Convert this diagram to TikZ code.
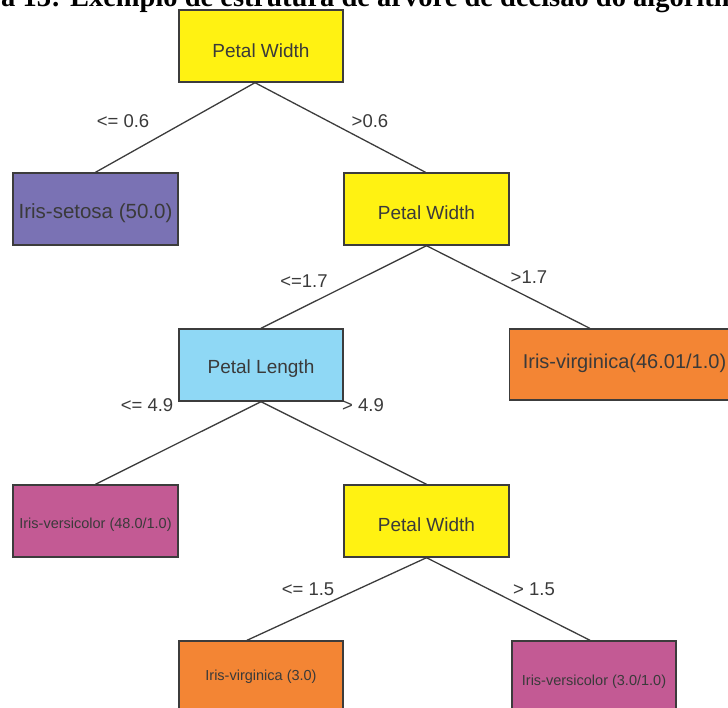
\documentclass[tikz,border=0pt]{standalone}
\usepackage{fontspec}
\setmainfont{Liberation Sans}
\newfontfamily\captionserif{Liberation Serif}
\usetikzlibrary{calc}
\definecolor{ink}{HTML}{3A3A3A}
\definecolor{edgeline}{HTML}{3C3C3C}
\definecolor{boxyellow}{RGB}{255,242,18}
\definecolor{boxpurple}{RGB}{122,114,180}
\definecolor{boxorange}{RGB}{243,133,52}
\definecolor{boxblue}{RGB}{143,216,245}
\definecolor{boxmagenta}{RGB}{195,90,148}
\tikzset{
  treebox/.style={draw=edgeline, line width=1.4pt, rectangle, inner sep=0pt,
    minimum width=164pt, minimum height=72pt},
  boxtext/.style={text=ink, inner sep=0pt, font=\fontsize{#1}{#1}\selectfont},
  branch/.style={draw=edgeline, line width=1.3pt},
  cond/.style={text=ink, inner sep=0pt, font=\fontsize{18.5}{18.5}\selectfont}
}
\begin{document}
\begin{tikzpicture}[x=1pt, y=-1pt]
  \useasboundingbox (0,0) rectangle (728,708);
  \clip (0,0) rectangle (728,708);

  % figure caption, running off the top edge
  \node[anchor=base west, inner sep=0pt, text=black,
        font=\captionserif\bfseries\fontsize{28.5}{28.5}\selectfont]
        (caption) at (1,7) {\llap{Figur}a 13: Exemplo de estrutura de árvore de decisão do algoritmo};

  % boxes
  \node[treebox, fill=boxyellow]  (root) at (261,46)    {};
  \node[treebox, fill=boxpurple, minimum width=165pt]  (setosa) at (95.5,209) {};
  \node[treebox, fill=boxyellow, minimum width=165pt]  (pw2) at (426.5,209) {};
  \node[treebox, fill=boxblue]    (pl) at (261,365)     {};
  \node[treebox, fill=boxorange, minimum width=242pt, minimum height=71pt] (virg46) at (630.5,364.5) {};
  \node[treebox, fill=boxmagenta, minimum width=165pt] (vers48) at (95.5,521) {};
  \node[treebox, fill=boxyellow, minimum width=165pt]  (pw3) at (426.5,521) {};
  \node[treebox, fill=boxorange]  (virg3) at (261,677)  {};
  \node[treebox, fill=boxmagenta] (vers3) at (594,677)  {};

  % box texts
  \node[boxtext=19]   (t1) at ([yshift=-5pt]root.center)   {Petal Width};
  \node[boxtext=20.5] (t2) at ([yshift=-4pt]setosa.center) {Iris-setosa (50.0)};
  \node[boxtext=19]   (t3) at ([yshift=-4pt]pw2.center)    {Petal Width};
  \node[boxtext=19]   (t4) at ([yshift=-4pt]pl.center)     {Petal Length};
  \node[boxtext=20]   (t5) at ([xshift=-6pt,yshift=1pt]virg46.center) {Iris-virginica(46.01/1.0)};
  \node[boxtext=14.5] (t6) at ([yshift=-4pt]vers48.center) {Iris-versicolor (48.0/1.0)};
  \node[boxtext=19]   (t7) at ([yshift=-4pt]pw3.center)    {Petal Width};
  \node[boxtext=14.5] (t8) at ([yshift=0pt]virg3.center)   {Iris-virginica (3.0)};
  \node[boxtext=14.5] (t9) at ([yshift=-5pt]vers3.center)  {Iris-versicolor (3.0/1.0)};

  % branches
  \draw[branch] ([xshift=-6pt]root.south) -- (setosa.north);
  \draw[branch] ([xshift=-6pt]root.south) -- ([xshift=-1pt]pw2.north);
  \draw[branch] (pw2.south) -- (pl.north);
  \draw[branch] (pw2.south) -- ([xshift=81pt]virg46.north west);
  \draw[branch] (pl.south) -- (vers48.north);
  \draw[branch] (pl.south) -- (pw3.north);
  \draw[branch] (pw3.south) -- ([xshift=-14pt]virg3.north);
  \draw[branch] (pw3.south) -- ([xshift=-4pt]vers3.north);

  % split conditions
  \node[cond] (c1) at (123,121) {<= 0.6};
  \node[cond] (c2) at (370,121) {>0.6};
  \node[cond] (c3) at (304,281) {<=1.7};
  \node[cond] (c4) at (529,277) {>1.7};
  \node[cond] (c5) at (147,405) {<= 4.9};
  \node[cond] (c6) at (363,405) {> 4.9};
  \node[cond] (c7) at (308,589) {<= 1.5};
  \node[cond] (c8) at (534,589) {> 1.5};
\end{tikzpicture}
\end{document}
